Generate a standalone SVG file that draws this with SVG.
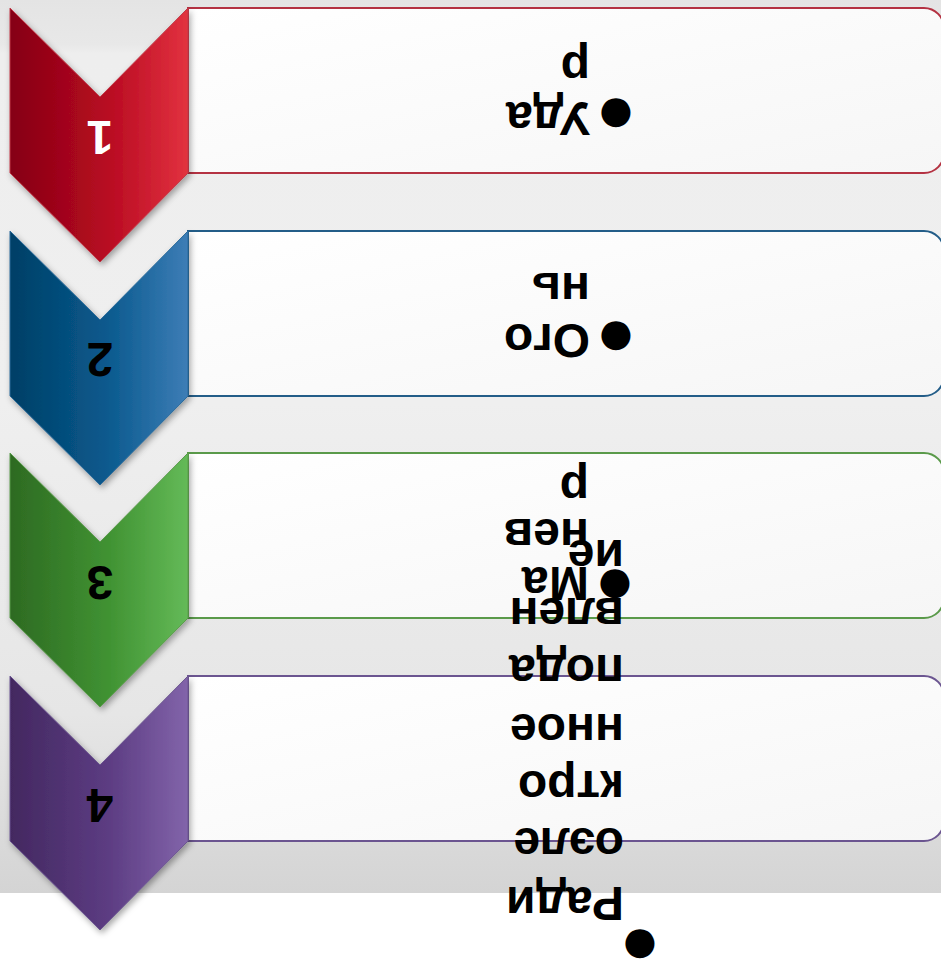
<svg xmlns="http://www.w3.org/2000/svg" width="941" height="970" viewBox="0 0 941 970">
<defs>
<linearGradient id="bg" x1="0" y1="0" x2="0" y2="1">
<stop offset="0" stop-color="#e4e4e4"/>
<stop offset="0.05" stop-color="#e8e8e8"/>
<stop offset="0.06" stop-color="#eeeeee"/>
<stop offset="0.45" stop-color="#efefef"/>
<stop offset="0.8" stop-color="#e6e6e6"/>
<stop offset="1" stop-color="#d4d4d4"/>
</linearGradient>
<linearGradient id="box" x1="0" y1="0" x2="1" y2="1">
<stop offset="0" stop-color="#ffffff"/>
<stop offset="1" stop-color="#f6f6f6"/>
</linearGradient>
<linearGradient id="gRed" x1="0" y1="0" x2="1" y2="0">
<stop offset="0" stop-color="#850012"/>
<stop offset="0.55" stop-color="#b80a22"/>
<stop offset="1" stop-color="#e2323f"/>
</linearGradient>
<linearGradient id="gBlue" x1="0" y1="0" x2="1" y2="0">
<stop offset="0" stop-color="#003f66"/>
<stop offset="0.55" stop-color="#0a5a8e"/>
<stop offset="1" stop-color="#3d7db6"/>
</linearGradient>
<linearGradient id="gGreen" x1="0" y1="0" x2="1" y2="0">
<stop offset="0" stop-color="#2d6a22"/>
<stop offset="0.55" stop-color="#409232"/>
<stop offset="1" stop-color="#64ba58"/>
</linearGradient>
<linearGradient id="gPurple" x1="0" y1="0" x2="1" y2="0">
<stop offset="0" stop-color="#432860"/>
<stop offset="0.55" stop-color="#5c3c82"/>
<stop offset="1" stop-color="#8264aa"/>
</linearGradient>
<filter id="sh" x="-20%" y="-20%" width="140%" height="140%">
<feDropShadow dx="2" dy="3" stdDeviation="3" flood-color="#000" flood-opacity="0.35"/>
</filter>
</defs>
<style>
.box{fill:url(#box);stroke-width:2}
.chev{filter:url(#sh);stroke-width:1}
.t{font-family:"Liberation Sans",Arial,sans-serif;font-weight:bold;font-size:48px;fill:#000}
.num{font-family:"Liberation Sans",Arial,sans-serif;font-weight:bold;font-size:48px;text-anchor:middle;dominant-baseline:central}
.b{font-family:"DejaVu Sans",sans-serif;font-size:38px;text-anchor:middle;dominant-baseline:central;fill:#000}
</style>
<rect x="0" y="0" width="941" height="893" fill="url(#bg)"/>
<rect x="0" y="893" width="941" height="77" fill="#ffffff"/>
<g id="connectors"></g>
<g id="node1">
<path class="box" stroke="#b43242" d="M188,8 H924 A20,20 0 0 1 944,28 V153 A20,20 0 0 1 924,173 H188 Z"/>
<path class="chev" fill="url(#gRed)" stroke="#c03a48" d="M10,8 L100,97 L188,8 L188,173 L100,262 L10,173 Z"/>
<text class="num" fill="#ffffff" x="100" y="137" transform="rotate(180 100 137)">1</text>
<text class="b" x="616" y="116" transform="rotate(180 616 116)">●</text>
<text class="t" x="590" y="102" transform="rotate(180 590 102)">Уда</text>
<text class="t" x="590" y="52" transform="rotate(180 590 52)">р</text>
</g>
<g id="node2">
<path class="box" stroke="#235d88" d="M188,231 H924 A20,20 0 0 1 944,251 V376 A20,20 0 0 1 924,396 H188 Z"/>
<path class="chev" fill="url(#gBlue)" stroke="#2a6a9a" d="M10,231 L100,320 L188,231 L188,396 L100,485 L10,396 Z"/>
<text class="num" fill="#000000" x="100" y="359" transform="rotate(180 100 359)">2</text>
<text class="b" x="616" y="339" transform="rotate(180 616 339)">●</text>
<text class="t" x="590" y="324" transform="rotate(180 590 324)">Ого</text>
<text class="t" x="590" y="273" transform="rotate(180 590 273)">нь</text>
</g>
<g id="node3">
<path class="box" stroke="#5a9a4a" d="M188,453 H924 A20,20 0 0 1 944,473 V598 A20,20 0 0 1 924,618 H188 Z"/>
<path class="chev" fill="url(#gGreen)" stroke="#5a9a4a" d="M10,453 L100,542 L188,453 L188,618 L100,707 L10,618 Z"/>
<text class="num" fill="#000000" x="100" y="582" transform="rotate(180 100 582)">3</text>
<text class="b" x="615" y="587" transform="rotate(180 615 587)">●</text>
<text class="t" x="589" y="567" transform="rotate(180 589 567)">Ма</text>
<text class="t" x="589" y="519" transform="rotate(180 589 519)">нев</text>
<text class="t" x="589" y="472" transform="rotate(180 589 472)">р</text>
</g>
<g id="node4">
<path class="box" stroke="#6b5590" d="M188,676 H924 A20,20 0 0 1 944,696 V821 A20,20 0 0 1 924,841 H188 Z"/>
<path class="chev" fill="url(#gPurple)" stroke="#6b5590" d="M10,676 L100,765 L188,676 L188,841 L100,930 L10,841 Z"/>
<text class="num" fill="#000000" x="100" y="805" transform="rotate(180 100 805)">4</text>
<text class="b" x="640" y="947" transform="rotate(180 640 947)">●</text>
<text class="t" x="624" y="887" transform="rotate(180 624 887)">Ради</text>
<text class="t" x="624" y="828" transform="rotate(180 624 828)">оэле</text>
<text class="t" x="624" y="771" transform="rotate(180 624 771)">ктро</text>
<text class="t" x="624" y="714" transform="rotate(180 624 714)">нное</text>
<text class="t" x="624" y="655" transform="rotate(180 624 655)">пода</text>
<text class="t" x="624" y="598" transform="rotate(180 624 598)">влен</text>
<text class="t" x="624" y="540" transform="rotate(180 624 540)">ие</text>
</g>
</svg>
